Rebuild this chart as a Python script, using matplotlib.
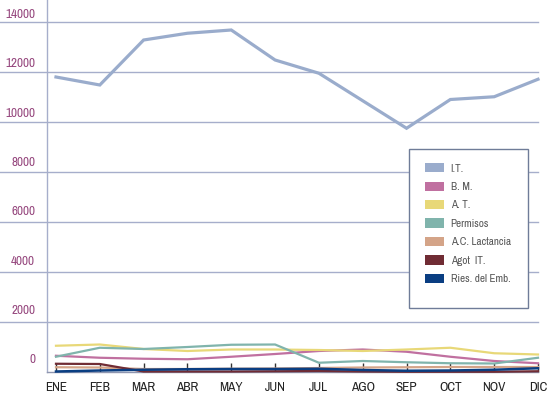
import matplotlib
matplotlib.use("Agg")
import matplotlib.pyplot as plt
import matplotlib.transforms as mtransforms
from matplotlib.patches import Patch, Rectangle

plt.rcParams['font.family'] = ['Archivo Narrow', 'DejaVu Sans']

months = ["ENE", "FEB", "MAR", "ABR", "MAY", "JUN", "JUL", "AGO", "SEP", "OCT", "NOV", "DIC"]
it_vals = [11800, 11480, 13280, 13550, 13680, 12480, 11950, 10850, 9750, 10900, 11010, 11710]
bm_vals = [650, 570, 530, 510, 610, 720, 840, 900, 810, 610, 440, 350]
at_vals = [1050, 1100, 920, 840, 900, 900, 880, 840, 900, 970, 750, 700]
perm_vals = [610, 970, 920, 1000, 1090, 1100, 370, 440, 390, 350, 340, 570]
lact_vals = [190, 180, 120, 120, 130, 140, 160, 180, 190, 200, 200, 200]
agot_vals = [330, 320, 20, 20, 20, 30, 40, 20, 10, 10, 10, 30]
ries_vals = [20, 60, 90, 110, 120, 120, 130, 80, 50, 60, 90, 150]
series_names = ["I.T.", "B. M.", "A. T.", "Permisos", "A.C. Lactancia", "Agot  IT.", "Ries. del Emb."]
yticks = [0, 2000, 4000, 6000, 8000, 10000, 12000, 14000]

colors = ["#9aaccc", "#c070a0", "#e8d878", "#80b4ac", "#d4a488", "#702c34", "#0a3e82"]
widths = [2.3, 1.6, 1.6, 1.6, 1.6, 1.6, 1.8]
series = [it_vals, bm_vals, at_vals, perm_vals, lact_vals, agot_vals, ries_vals]

W, H = 547, 393
fig = plt.figure(figsize=(W / 100, H / 100), dpi=100)
left, right, bottom_px, top_px = 47, 538, 372, 0
aw, ah = right - left, bottom_px - top_px
ax = fig.add_axes([left / W, (H - bottom_px) / H, aw / W, ah / H])

x = list(range(len(months)))
for vals, c, lw in zip(series, colors, widths):
    ax.plot(x, vals, color=c, lw=lw, solid_joinstyle='miter', clip_on=False, zorder=3)

ax.set_xlim(-0.205, 11)
ax.set_ylim(0, 14880)

grid_c = "#a6aecb"
xmin = -left / aw
for v in yticks[1:]:
    ax.axhline(v, xmin=xmin, xmax=1, color=grid_c, lw=1.0, clip_on=False, zorder=1)

for s in ["top", "right"]:
    ax.spines[s].set_visible(False)
ax.spines["left"].set_color(grid_c)
ax.spines["left"].set_linewidth(1.0)
ax.spines["bottom"].set_color("#8f96b0")
ax.spines["bottom"].set_linewidth(1.0)

ax.set_yticks(yticks)
ax.set_yticklabels([])
ax.tick_params(axis='y', length=0)
ax.set_xticks(x)
ax.set_xticklabels(months)
ax.tick_params(axis='x', direction='in', length=6.5, width=1, color="#333333",
               labelsize=9.5, labelcolor="#222222", pad=7)

ymax_tick = max(yticks)
for v in yticks:
    off = 7.5 + (ymax_tick - v) / ymax_tick * 4.7
    trans = mtransforms.offset_copy(ax.get_yaxis_transform(), fig=fig, x=-12, y=off, units='dots')
    ax.text(0, v, str(v), transform=trans, ha='right', va='center',
            fontsize=9.5, color="#96487e")

# legend frame (box 409..528 x, 149..308 y in image pixels)
def ax_xy(px, py):
    return (px - left) / aw, (bottom_px - py) / ah

bx0, by0 = ax_xy(409, 308)
bx1, by1 = ax_xy(528, 149)
ax.add_patch(Rectangle((bx0, by0), bx1 - bx0, by1 - by0, transform=ax.transAxes,
                       facecolor="white", edgecolor="#6f7c98", lw=1.0,
                       clip_on=False, zorder=4))

handles = [Patch(facecolor=c, edgecolor='none') for c in colors]
leg = ax.legend(handles, series_names, loc='center left',
                bbox_to_anchor=ax_xy(425, 223.7),
                borderaxespad=0, frameon=False,
                fontsize=8, handlelength=1.75, handleheight=0.9,
                handletextpad=0.55, labelspacing=0.72, borderpad=0,
                labelcolor="#555555")
leg.set_zorder(5)

fig.savefig("out.png", dpi=100)
